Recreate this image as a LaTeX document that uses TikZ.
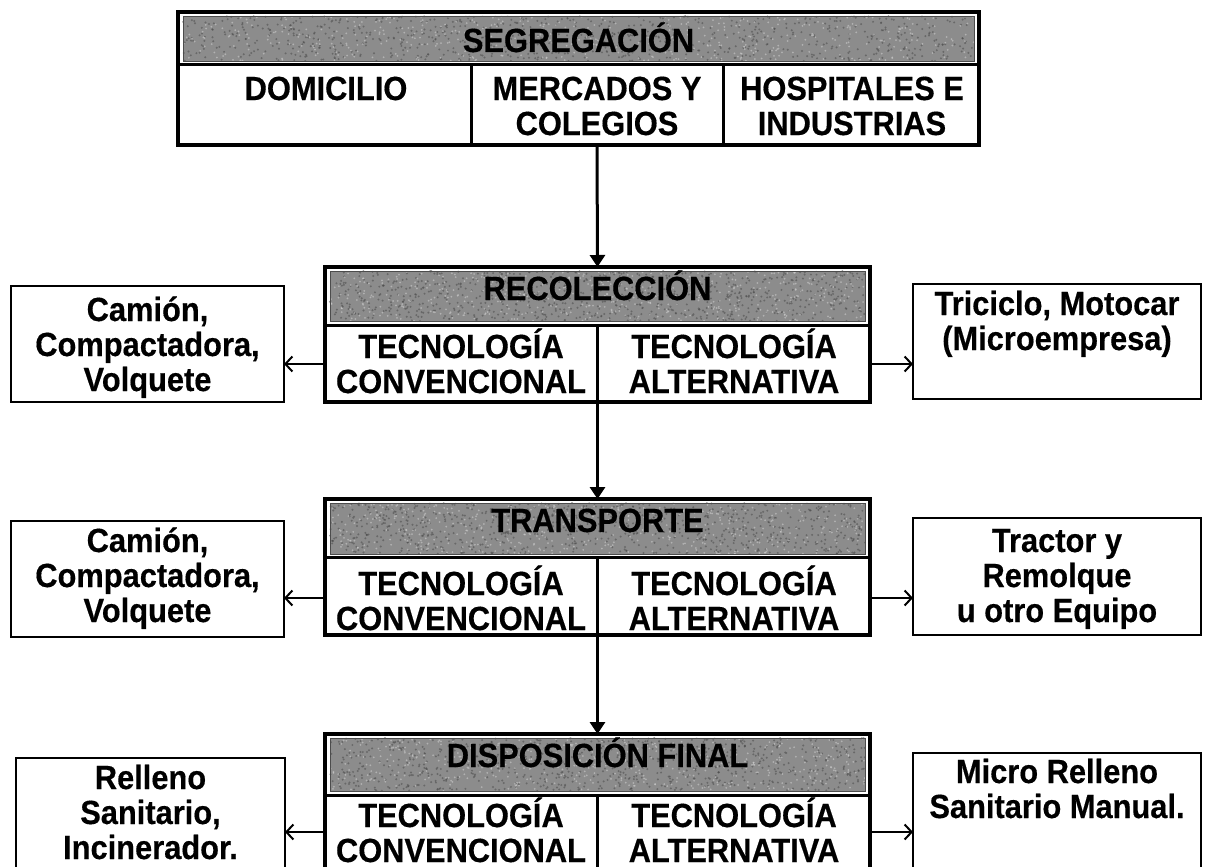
\documentclass[tikz,border=0pt]{standalone}
\usepackage{fontspec}
\setmainfont{Liberation Sans}
\newfontfamily\dfont{Liberation Sans}[FakeStretch=0.92,FakeBold=0.4]
\usetikzlibrary{arrows.meta}
\definecolor{hdrgray}{RGB}{140,140,140}
\definecolor{speckdark}{RGB}{75,75,75}
\definecolor{specklight}{RGB}{210,210,210}
\newcommand\hdrband[4]{%
  \fill[hdrgray] (#1,#2) rectangle (#3,#4);
  \foreach \k in {1,...,800}{\fill[speckdark,opacity=0.55] ({#1+(#3-#1)*rnd},{#2+(#4-#2)*rnd}) circle (1.1pt);}
  \foreach \k in {1,...,500}{\fill[specklight,opacity=0.55] ({#1+(#3-#1)*rnd},{#2+(#4-#2)*rnd}) circle (1.0pt);}
  \draw[black!70,line width=0.8pt] (#1,#2) rectangle (#3,#4);
}
\begin{document}
\begin{tikzpicture}[x=1pt,y=-1pt,
  frame/.style={draw=black, line width=4pt, inner sep=0pt, outer sep=0pt},
  sepline/.style={line width=3pt},
  lbl/.style={font=\dfont\bfseries\fontsize{33.5}{35}\selectfont, align=center, inner sep=0pt, anchor=base},
  sidebox/.style={draw=black, line width=2.5pt, inner sep=0pt, outer sep=0pt},
  flow/.style={line width=3pt, -{Triangle[length=12pt,width=15pt]}},
  branch/.style={line width=2pt, -{Straight Barb[length=7pt,width=15pt]}},
]
\useasboundingbox (0,0) rectangle (1205,867);
\clip (0,0) rectangle (1205,867);
\fill[white] (0,0) rectangle (1205,867);
\pgfmathsetseed{7}

% ---------- SEGREGACION ----------
\node[frame, minimum width=801pt, minimum height=133pt] (seg) at (578.5,78.5) {};
\hdrband{183}{16}{974}{61}
\draw[sepline] (178,65) -- (979,65);
\draw[sepline] (471,65) -- (471,145);
\draw[sepline] (723,65) -- (723,145);
\node[lbl] (segt) at (578.5,52) {SEGREGACIÓN};
\node[lbl] (c1) at (326,100) {DOMICILIO};
\node[lbl] (c2) at (597,135) {MERCADOS Y\\COLEGIOS};
\node[lbl] (c3) at (852,135) {HOSPITALES E\\INDUSTRIAS};

% ---------- RECOLECCION ----------
\node[frame, minimum width=545pt, minimum height=135pt] (rec) at (597.5,334.5) {};
\hdrband{330}{271}{865}{321}
\draw[sepline] (325,325) -- (870,325);
\draw[sepline] (597.5,325) -- (597.5,402);
\node[lbl] (rect) at (597.5,300) {RECOLECCIÓN};
\node[lbl] (recc) at (461,393) {TECNOLOGÍA\\CONVENCIONAL};
\node[lbl] (reca) at (734,393) {TECNOLOGÍA\\ALTERNATIVA};
\node[sidebox, minimum width=273pt, minimum height=116pt] (recL) at (147.5,344) {};
\node[lbl] (recLt) at (147.5,391) {Camión,\\Compactadora,\\Volquete};
\node[sidebox, minimum width=288pt, minimum height=115pt] (recR) at (1057,341.5) {};
\node[lbl] (recRt) at (1057,350) {Triciclo, Motocar\\(Microempresa)};

% ---------- TRANSPORTE ----------
\node[frame, minimum width=545pt, minimum height=136pt] (tra) at (597.5,567) {};
\hdrband{330}{503}{865}{554}
\draw[sepline] (325,557) -- (870,557);
\draw[sepline] (597.5,557) -- (597.5,635);
\node[lbl] (trat) at (597.5,532) {TRANSPORTE};
\node[lbl] (trac) at (461,630) {TECNOLOGÍA\\CONVENCIONAL};
\node[lbl] (traa) at (734,630) {TECNOLOGÍA\\ALTERNATIVA};
\node[sidebox, minimum width=273pt, minimum height=116pt] (traL) at (147.5,579) {};
\node[lbl] (traLt) at (147.5,622) {Camión,\\Compactadora,\\Volquete};
\node[sidebox, minimum width=288pt, minimum height=117pt] (traR) at (1057,576.5) {};
\node[lbl] (traRt) at (1057,622) {Tractor y\\Remolque\\u otro Equipo};

% ---------- DISPOSICION FINAL ----------
\node[frame, minimum width=545pt, minimum height=146pt] (dis) at (597.5,807) {};
\hdrband{330}{738}{865}{791}
\draw[sepline] (325,795) -- (870,795);
\draw[sepline] (597.5,795) -- (597.5,880);
\node[lbl] (dist) at (597.5,767) {DISPOSICIÓN FINAL};
\node[lbl] (disc) at (461,862) {TECNOLOGÍA\\CONVENCIONAL};
\node[lbl] (disa) at (734,862) {TECNOLOGÍA\\ALTERNATIVA};
\node[sidebox, minimum width=269pt, minimum height=142pt] (disL) at (150.5,829) {};
\node[lbl] (disLt) at (150.5,859) {Relleno\\Sanitario,\\Incinerador.};
\node[sidebox, minimum width=288pt, minimum height=147pt] (disR) at (1057,826.5) {};
\node[lbl] (disRt) at (1057,818) {Micro Relleno\\Sanitario Manual.};

% ---------- connectors ----------
\draw[flow] (seg.south -| c2) -- (rec.north);
\draw[flow] (rec.south) -- (tra.north);
\draw[flow] (tra.south) -- (dis.north);
\draw[branch] ([yshift=-29.5pt]rec.west) -- ([yshift=-29.5pt]rec.west -| recL.east);
\draw[branch] ([yshift=-29.5pt]rec.east) -- ([yshift=-29.5pt]rec.east -| recR.west);
\draw[branch] ([yshift=-31pt]tra.west) -- ([yshift=-31pt]tra.west -| traL.east);
\draw[branch] ([yshift=-31pt]tra.east) -- ([yshift=-31pt]tra.east -| traR.west);
\draw[branch] ([yshift=-25pt]dis.west) -- ([yshift=-25pt]dis.west -| disL.east);
\draw[branch] ([yshift=-25pt]dis.east) -- ([yshift=-25pt]dis.east -| disR.west);
\end{tikzpicture}
\end{document}
